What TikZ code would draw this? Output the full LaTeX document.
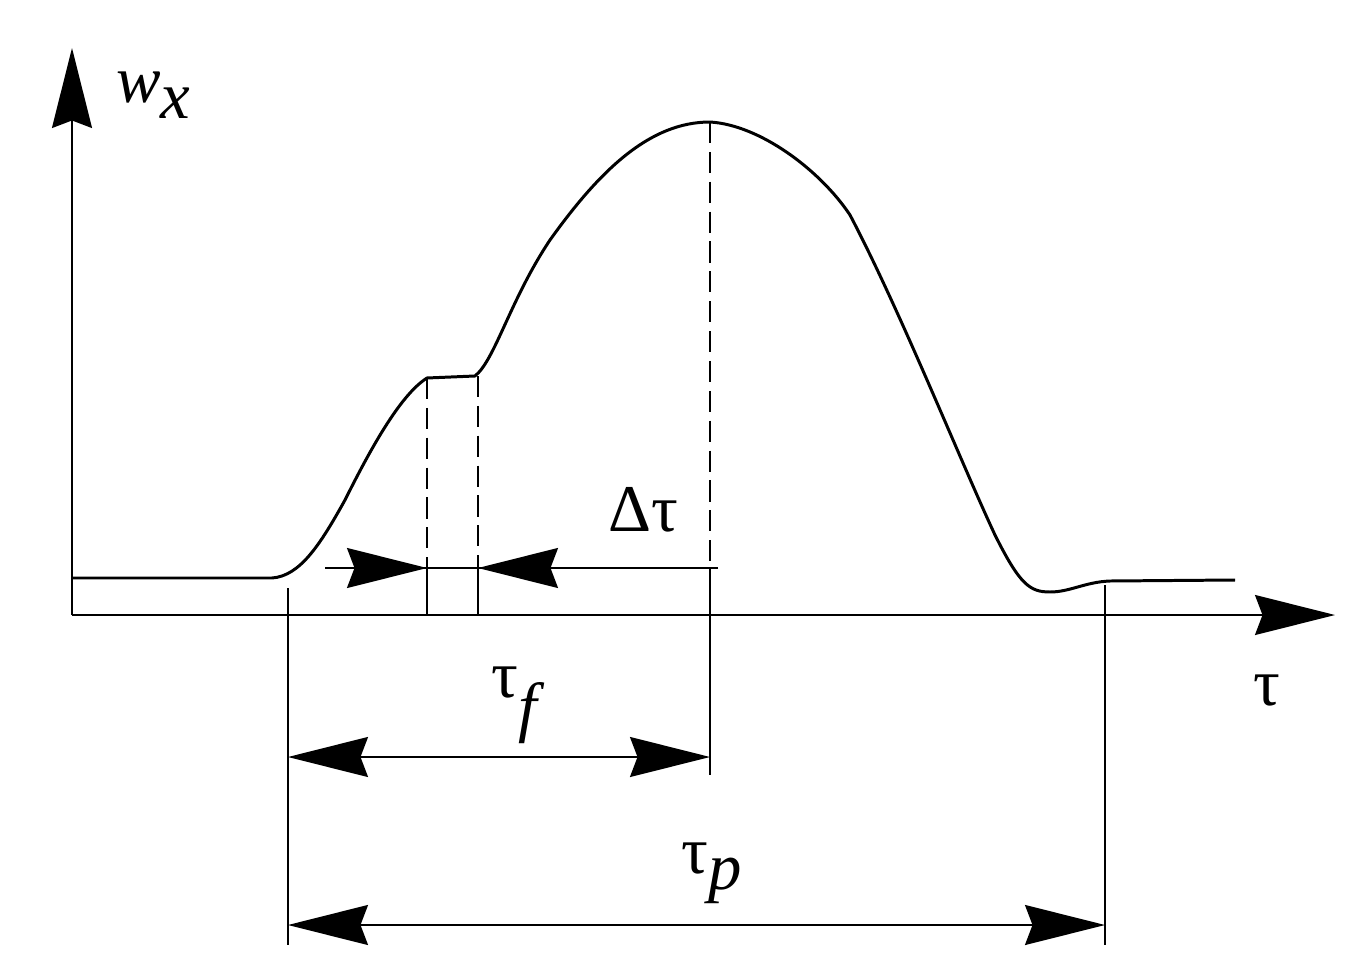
\documentclass[tikz,border=0pt]{standalone}
\usepackage{fontspec}
\setmainfont{Liberation Serif}
\usetikzlibrary{arrows.meta}
\begin{document}
\begin{tikzpicture}[x=0.02cm,y=-0.02cm,
  thin line/.style={line width=1.1pt},
  curve/.style={line width=1.7pt},
  big/.style={-{Stealth[length=1.6cm,width=0.8cm,inset=0.15cm]}},
  bigboth/.style={{Stealth[length=1.6cm,width=0.8cm,inset=0.15cm]}-{Stealth[length=1.6cm,width=0.8cm,inset=0.15cm]}},
  lbl/.style={font=\fontsize{38}{40}\selectfont}]
\useasboundingbox (0,0) rectangle (1363,977);
% axes
\coordinate (O) at (72,615);
\coordinate (ytop) at (72,48);
\coordinate (xend) at (1335,615);
\draw[thin line,big] (O) -- (ytop);
\draw[thin line,big] (O) -- (xend);
\node[lbl,anchor=west] (wx) at (110,95) {\textit{w}$_{\textit{x}}$};
\node[lbl] (tau) at (1267,690) {τ};
% curve
\draw[curve] (72,578) -- (272,578)
  .. controls (300,576) and (320,545) .. (345,500)
  .. controls (370,450) and (400,395) .. (427,378)
  -- (475,376)
  .. controls (495,360) and (510,300) .. (550,240)
  .. controls (600,170) and (650,122) .. (710,122)
  .. controls (760,125) and (820,170) .. (850,215)
  .. controls (900,310) and (960,460) .. (995,535)
  .. controls (1020,585) and (1030,592) .. (1050,592)
  .. controls (1070,592) and (1085,582) .. (1110,581)
  -- (1235,580);
% verticals
\coordinate (a1) at (427,378); \coordinate (a2) at (427,568); \coordinate (a3) at (427,615);
\coordinate (b1) at (478,376); \coordinate (b2) at (478,568); \coordinate (b3) at (478,615);
\coordinate (p1) at (710,122); \coordinate (p2) at (710,568); \coordinate (p3) at (710,775);
\draw[thin line,dashed,dash pattern=on 12pt off 5pt] (a1) -- (a2) (b1) -- (b2) (p1) -- (p2);
\draw[thin line] (a2) -- (a3) (b2) -- (b3) (p2) -- (p3);
\coordinate (s1) at (288,588); \coordinate (s2) at (288,945);
\coordinate (e1) at (1105,585); \coordinate (e2) at (1105,945);
\draw[thin line] (s1) -- (s2) (e1) -- (e2);
% delta tau
\coordinate (h1) at (325,568); \coordinate (h2) at (718,568);
\draw[thin line] (h1) -- (h2);
\draw[thin line,big] (h1) -- (a2);
\draw[thin line,big] (h2) -- (b2);
\node[lbl] (dt) at (643,510) {Δτ};
% tau_f
\coordinate (f1) at (288,757); \coordinate (f2) at (710,757);
\draw[thin line,bigboth] (f1) -- (f2);
\node[lbl] (tf) at (515,705) {τ$_{\textit{f}}$};
% tau_p
\coordinate (q1) at (288,925); \coordinate (q2) at (1105,925);
\draw[thin line,bigboth] (q1) -- (q2);
\node[lbl] (tp) at (712,873) {τ$_{\textit{p}}$};
\end{tikzpicture}
\end{document}
